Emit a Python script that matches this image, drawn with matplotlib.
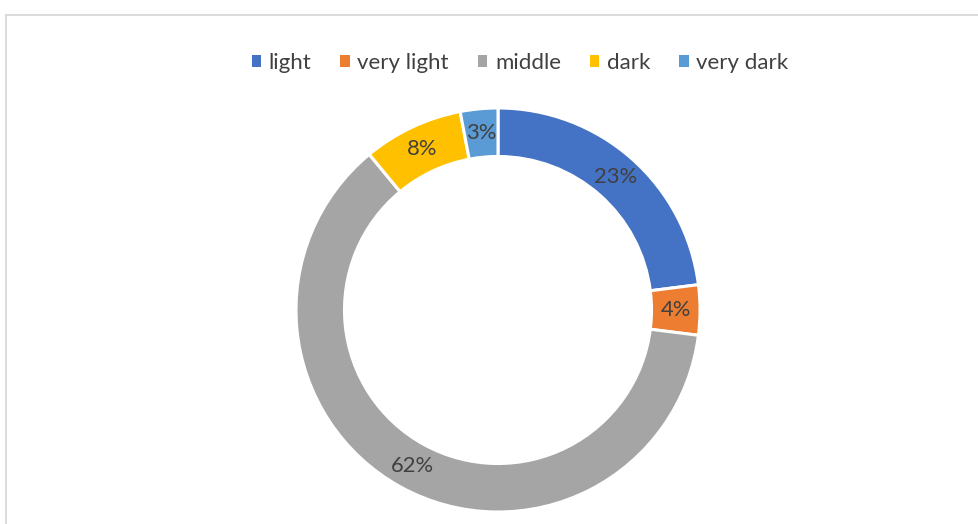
import matplotlib
matplotlib.use("Agg")
import matplotlib.pyplot as plt
from matplotlib.patches import Patch
from matplotlib.lines import Line2D

# data
categories = ["light", "very light", "middle", "dark", "very dark"]
shares = [23, 4, 62, 8, 3]
colors = ["#4472C4", "#ED7D31", "#A5A5A5", "#FFC000", "#5B9BD5"]

TEXT = "#404040"
plt.rcParams["font.family"] = ["Lato", "DejaVu Sans"]

W, H = 979, 524
fig = plt.figure(figsize=(W / 100, H / 100), dpi=100)
fig.patch.set_facecolor("white")

# chart-area frame (cut off at right and bottom)
fx, fy = 6.5 / W, 1 - 14.5 / H
fig.add_artist(Line2D([fx, fx], [0, fy], transform=fig.transFigure,
                      color="#d9d9d9", linewidth=1.3))
fig.add_artist(Line2D([fx, 1], [fy, fy], transform=fig.transFigure,
                      color="#d9d9d9", linewidth=1.3))

# donut
cx, cy, r = 498, 310, 202
ax = fig.add_axes([(cx - r) / W, (H - cy - r) / H, 2 * r / W, 2 * r / H])
ax.pie(shares, colors=colors, startangle=90, counterclock=False, radius=1,
       wedgeprops=dict(width=0.24, edgecolor="white", linewidth=2.2),
       labels=[f"{v}%" for v in shares], labeldistance=0.88,
       textprops=dict(color=TEXT, fontsize=15.8, ha="center", va="center"))
for t in ax.texts:
    t.set_horizontalalignment("center")
ax.set_xlim(-1, 1)
ax.set_ylim(-1, 1)
ax.set_aspect("equal")
ax.axis("off")

handles = [Patch(facecolor=c, edgecolor="none", label=l) for c, l in zip(colors, categories)]
fig.legend(handles=handles, loc="center", bbox_to_anchor=(520 / W, 1 - 63 / H),
           ncol=5, frameon=False, fontsize=16, labelcolor=TEXT,
           handlelength=0.42, handleheight=0.42, handletextpad=0.35,
           columnspacing=1.3)

fig.savefig("out.png", dpi=100, facecolor="white")
